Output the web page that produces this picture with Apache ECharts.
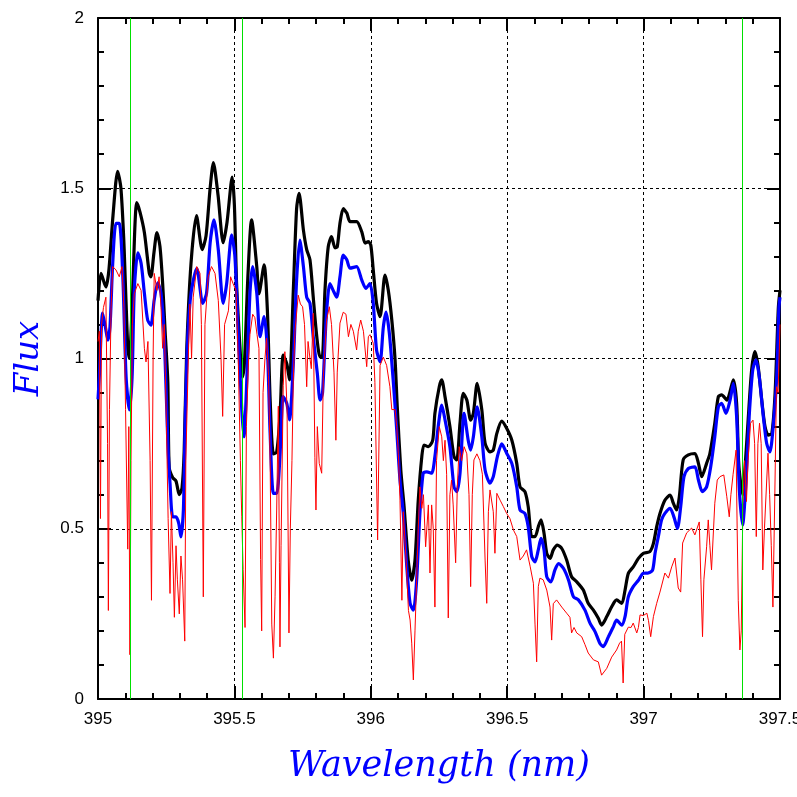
<!DOCTYPE html>
<html><head><meta charset="utf-8">
<script src="https://cdn.jsdelivr.net/npm/echarts@6/dist/echarts.min.js"></script>
<style>html,body{margin:0;padding:0;background:#fff;overflow:hidden}#c{width:797px;height:797px}</style>
</head><body><div id="c"></div>
<script>
// ---- data (wavelength nm, flux) ----
var xTicks = [395, 395.5, 396, 396.5, 397, 397.5];
var yTicks = [0, 0.5, 1, 1.5, 2];
var markerLines = [395.117, 395.533, 397.361];

var black = [[395.000,1.17],[395.011,1.25],[395.029,1.21],[395.040,1.26],[395.055,1.42],[395.072,1.55],[395.084,1.50],[395.096,1.32],[395.109,1.03],[395.115,1.00],[395.125,1.15],[395.142,1.458],[395.154,1.43],[395.170,1.37],[395.188,1.25],[395.194,1.24],[395.205,1.31],[395.216,1.37],[395.227,1.33],[395.237,1.22],[395.246,1.08],[395.256,0.93],[395.261,0.68],[395.274,0.65],[395.286,0.64],[395.298,0.60],[395.308,0.62],[395.316,0.73],[395.325,1.02],[395.341,1.28],[395.361,1.42],[395.382,1.32],[395.396,1.36],[395.411,1.50],[395.423,1.575],[395.440,1.48],[395.459,1.34],[395.473,1.40],[395.492,1.533],[395.500,1.45],[395.508,1.22],[395.521,1.025],[395.529,0.945],[395.536,0.975],[395.550,1.25],[395.563,1.407],[395.582,1.27],[395.590,1.19],[395.609,1.275],[395.621,1.14],[395.631,0.88],[395.643,0.72],[395.655,0.725],[395.667,0.83],[395.679,1.01],[395.692,0.985],[395.702,0.937],[395.716,1.20],[395.728,1.44],[395.737,1.485],[395.753,1.377],[395.765,1.32],[395.777,1.29],[395.789,1.18],[395.802,1.064],[395.814,1.005],[395.822,1.005],[395.832,1.20],[395.844,1.328],[395.856,1.358],[395.869,1.325],[395.877,1.328],[395.887,1.397],[395.899,1.44],[395.912,1.427],[395.924,1.402],[395.948,1.402],[395.967,1.372],[395.979,1.339],[395.991,1.343],[396.000,1.333],[396.009,1.26],[396.021,1.162],[396.034,1.123],[396.052,1.245],[396.064,1.201],[396.077,1.113],[396.089,0.996],[396.097,0.858],[396.110,0.672],[396.122,0.565],[396.137,0.408],[396.150,0.349],[396.162,0.408],[396.174,0.584],[396.187,0.712],[396.195,0.746],[396.211,0.741],[396.227,0.76],[396.235,0.839],[396.251,0.917],[396.260,0.937],[396.272,0.888],[396.290,0.80],[396.305,0.712],[396.315,0.702],[396.327,0.81],[396.339,0.898],[396.352,0.878],[396.366,0.819],[396.376,0.839],[396.390,0.927],[396.407,0.849],[396.419,0.751],[396.437,0.726],[396.449,0.731],[396.462,0.78],[396.480,0.816],[396.498,0.795],[396.517,0.76],[396.535,0.692],[396.547,0.623],[396.565,0.609],[396.577,0.565],[396.590,0.477],[396.602,0.477],[396.614,0.506],[396.624,0.526],[396.635,0.487],[396.645,0.428],[396.657,0.413],[396.669,0.438],[396.684,0.452],[396.700,0.442],[396.718,0.408],[396.736,0.359],[396.755,0.344],[396.779,0.32],[396.797,0.281],[396.816,0.261],[396.834,0.237],[396.846,0.217],[396.865,0.242],[396.883,0.271],[396.901,0.291],[396.920,0.281],[396.932,0.32],[396.944,0.369],[396.962,0.388],[396.981,0.413],[396.999,0.428],[397.023,0.433],[397.036,0.457],[397.048,0.506],[397.060,0.545],[397.078,0.584],[397.097,0.599],[397.109,0.575],[397.121,0.555],[397.131,0.594],[397.145,0.702],[397.164,0.717],[397.188,0.721],[397.201,0.692],[397.213,0.653],[397.231,0.692],[397.243,0.721],[397.261,0.81],[397.274,0.888],[397.286,0.893],[397.305,0.878],[397.329,0.937],[397.341,0.868],[397.348,0.70],[397.353,0.653],[397.363,0.599],[397.372,0.682],[397.384,0.829],[397.396,0.966],[397.408,1.02],[397.420,0.976],[397.433,0.878],[397.445,0.80],[397.457,0.775],[397.470,0.78],[397.482,0.898],[397.494,1.15],[397.500,1.20]];

var blue = [[395.000,0.88],[395.005,0.95],[395.017,1.133],[395.027,1.093],[395.036,1.054],[395.044,1.093],[395.054,1.28],[395.066,1.397],[395.078,1.397],[395.091,1.24],[395.103,0.946],[395.115,0.849],[395.125,0.946],[395.133,1.20],[395.146,1.31],[395.158,1.28],[395.170,1.192],[395.182,1.113],[395.194,1.098],[395.206,1.172],[395.219,1.222],[395.231,1.192],[395.243,1.064],[395.256,0.752],[395.264,0.634],[395.274,0.535],[395.286,0.535],[395.296,0.516],[395.304,0.476],[395.313,0.555],[395.320,0.829],[395.329,1.064],[395.341,1.192],[395.362,1.265],[395.384,1.162],[395.398,1.192],[395.411,1.339],[395.425,1.407],[395.441,1.319],[395.459,1.162],[395.472,1.222],[395.490,1.363],[395.502,1.298],[395.514,1.074],[395.527,0.849],[395.535,0.77],[395.545,0.928],[395.557,1.192],[395.567,1.27],[395.582,1.192],[395.594,1.064],[395.609,1.123],[395.621,1.025],[395.631,0.78],[395.643,0.604],[395.655,0.604],[395.667,0.712],[395.679,0.888],[395.692,0.868],[395.702,0.82],[395.716,0.985],[395.728,1.23],[395.740,1.348],[395.753,1.27],[395.765,1.18],[395.777,1.162],[395.789,1.064],[395.804,0.956],[395.814,0.878],[395.823,0.898],[395.836,1.113],[395.850,1.22],[395.862,1.20],[395.875,1.18],[395.887,1.24],[395.899,1.304],[395.912,1.29],[395.924,1.265],[395.948,1.27],[395.967,1.23],[395.982,1.206],[395.997,1.22],[396.009,1.162],[396.021,1.025],[396.034,0.99],[396.046,1.093],[396.056,1.136],[396.068,1.074],[396.082,0.937],[396.095,0.79],[396.107,0.643],[396.119,0.545],[396.132,0.388],[396.144,0.281],[396.156,0.261],[396.168,0.349],[396.180,0.545],[396.192,0.663],[396.205,0.667],[396.223,0.663],[396.235,0.712],[396.247,0.80],[396.260,0.863],[396.272,0.82],[396.290,0.741],[396.305,0.623],[396.315,0.609],[396.327,0.663],[396.342,0.839],[396.357,0.76],[396.366,0.731],[396.376,0.77],[396.390,0.858],[396.407,0.77],[396.419,0.672],[396.437,0.634],[396.449,0.653],[396.464,0.712],[396.480,0.749],[396.498,0.722],[396.517,0.692],[396.535,0.623],[396.547,0.555],[396.565,0.545],[396.577,0.506],[396.590,0.418],[396.602,0.403],[396.614,0.438],[396.624,0.472],[396.635,0.438],[396.645,0.359],[396.660,0.344],[396.675,0.379],[396.688,0.398],[396.706,0.384],[396.725,0.349],[396.743,0.30],[396.761,0.291],[396.785,0.261],[396.804,0.222],[396.822,0.198],[396.840,0.163],[396.852,0.154],[396.871,0.183],[396.889,0.212],[396.901,0.232],[396.920,0.217],[396.932,0.242],[396.944,0.30],[396.962,0.33],[396.981,0.349],[396.999,0.369],[397.017,0.37],[397.033,0.379],[397.042,0.428],[397.054,0.477],[397.066,0.526],[397.078,0.545],[397.097,0.56],[397.111,0.535],[397.124,0.501],[397.136,0.565],[397.148,0.653],[397.164,0.677],[397.188,0.682],[397.201,0.643],[397.215,0.609],[397.231,0.623],[397.246,0.682],[397.261,0.77],[397.274,0.858],[397.286,0.868],[397.302,0.839],[397.317,0.878],[397.329,0.927],[397.341,0.829],[397.351,0.614],[397.363,0.511],[397.375,0.634],[397.387,0.829],[397.400,0.966],[397.412,0.996],[397.424,0.946],[397.439,0.829],[397.451,0.751],[397.463,0.726],[397.475,0.80],[397.488,0.946],[397.496,1.15],[397.500,1.18]];

var red = [[395.000,1.05],[395.005,1.08],[395.009,0.53],[395.013,1.10],[395.020,1.15],[395.029,1.18],[395.035,0.75],[395.038,0.26],[395.042,0.85],[395.048,1.15],[395.054,1.27],[395.066,1.26],[395.078,1.24],[395.088,1.27],[395.095,1.15],[395.101,0.85],[395.109,0.44],[395.113,0.80],[395.117,0.13],[395.121,0.70],[395.126,1.10],[395.133,1.19],[395.146,1.22],[395.158,1.20],[395.170,1.03],[395.176,0.99],[395.183,1.05],[395.191,0.70],[395.196,0.29],[395.202,1.00],[395.206,1.25],[395.216,1.20],[395.224,1.24],[395.231,1.15],[395.237,1.03],[395.243,1.10],[395.251,0.80],[395.257,0.53],[395.264,0.31],[395.269,0.55],[395.275,0.40],[395.280,0.24],[395.286,0.45],[395.291,0.35],[395.298,0.25],[395.304,0.42],[395.310,0.35],[395.318,0.17],[395.322,0.70],[395.332,1.03],[395.337,1.16],[395.343,1.00],[395.349,1.18],[395.362,1.27],[395.374,1.25],[395.379,1.10],[395.386,0.30],[395.392,1.10],[395.404,1.24],[395.416,1.27],[395.429,1.25],[395.441,1.17],[395.451,1.00],[395.457,0.83],[395.464,1.10],[395.478,1.14],[395.486,1.24],[395.495,1.22],[395.506,1.20],[395.514,1.00],[395.522,0.70],[395.527,0.535],[395.532,0.38],[395.539,0.21],[395.544,0.80],[395.552,1.00],[395.557,1.07],[395.567,1.13],[395.575,1.12],[395.583,1.07],[395.590,1.03],[395.596,0.41],[395.600,0.20],[395.605,0.90],[395.612,1.00],[395.618,1.06],[395.625,0.95],[395.631,0.70],[395.637,0.22],[395.643,0.12],[395.649,0.30],[395.655,0.555],[395.661,0.86],[395.665,0.40],[395.667,0.153],[395.671,0.45],[395.679,0.92],[395.685,1.02],[395.693,0.85],[395.700,0.194],[395.705,0.50],[395.711,0.70],[395.716,0.94],[395.722,1.08],[395.734,1.186],[395.742,1.16],[395.750,1.152],[395.757,1.10],[395.765,0.917],[395.770,1.05],[395.777,1.00],[395.782,0.97],[395.789,1.133],[395.795,0.71],[395.799,0.555],[395.804,0.80],[395.811,0.692],[395.820,0.663],[395.826,0.946],[395.838,1.113],[395.848,1.152],[395.856,1.10],[395.865,0.96],[395.872,0.76],[395.877,0.96],[395.887,1.104],[395.899,1.136],[395.909,1.13],[395.918,1.064],[395.927,1.10],[395.936,1.08],[395.948,1.025],[395.954,1.08],[395.963,1.113],[395.973,1.08],[395.985,0.976],[395.991,1.064],[395.997,1.07],[396.009,1.045],[396.015,0.93],[396.025,0.467],[396.034,0.98],[396.046,1.004],[396.058,0.98],[396.070,0.917],[396.077,0.85],[396.089,0.85],[396.095,0.80],[396.101,0.72],[396.107,0.584],[396.114,0.29],[396.119,0.55],[396.130,0.40],[396.138,0.26],[396.144,0.232],[396.150,0.164],[396.156,0.056],[396.162,0.20],[396.168,0.349],[396.174,0.50],[396.180,0.623],[396.187,0.56],[396.193,0.60],[396.201,0.447],[396.211,0.57],[396.217,0.37],[396.223,0.57],[396.229,0.50],[396.235,0.27],[396.241,0.70],[396.251,0.80],[396.260,0.77],[396.266,0.70],[396.272,0.76],[396.278,0.66],[396.284,0.238],[396.290,0.60],[396.296,0.643],[396.302,0.57],[396.311,0.40],[396.317,0.62],[396.324,0.741],[396.333,0.70],[396.342,0.741],[396.352,0.72],[396.360,0.60],[396.366,0.33],[396.372,0.60],[396.378,0.702],[396.389,0.72],[396.400,0.70],[396.409,0.66],[396.419,0.408],[396.425,0.281],[396.431,0.55],[396.437,0.614],[396.443,0.61],[396.449,0.55],[396.455,0.428],[396.462,0.604],[396.474,0.584],[396.486,0.565],[396.498,0.545],[396.510,0.53],[396.523,0.496],[396.535,0.477],[396.547,0.408],[396.559,0.42],[396.571,0.438],[396.584,0.39],[396.596,0.34],[396.602,0.22],[396.608,0.109],[396.614,0.33],[396.620,0.355],[396.632,0.35],[396.645,0.32],[396.657,0.27],[396.663,0.173],[396.669,0.28],[396.681,0.291],[396.700,0.27],[396.718,0.252],[396.730,0.24],[396.736,0.194],[396.745,0.21],[396.755,0.194],[396.773,0.183],[396.785,0.16],[396.797,0.135],[396.816,0.115],[396.834,0.109],[396.846,0.07],[396.865,0.09],[396.883,0.123],[396.901,0.144],[396.912,0.164],[396.919,0.17],[396.925,0.047],[396.931,0.19],[396.944,0.211],[396.954,0.21],[396.962,0.223],[396.975,0.194],[396.981,0.21],[396.987,0.247],[396.999,0.245],[397.012,0.252],[397.018,0.23],[397.026,0.183],[397.036,0.242],[397.048,0.281],[397.060,0.314],[397.078,0.37],[397.091,0.355],[397.103,0.388],[397.115,0.414],[397.127,0.326],[397.136,0.314],[397.143,0.458],[397.158,0.488],[397.176,0.502],[397.188,0.482],[397.204,0.52],[397.210,0.35],[397.216,0.183],[397.221,0.35],[397.231,0.447],[397.237,0.526],[397.243,0.45],[397.249,0.379],[397.255,0.38],[397.261,0.575],[397.270,0.643],[397.280,0.653],[397.294,0.658],[397.305,0.594],[397.314,0.535],[397.320,0.60],[397.328,0.66],[397.339,0.731],[397.343,0.50],[397.347,0.29],[397.353,0.144],[397.358,0.20],[397.364,0.575],[397.370,0.70],[397.377,0.58],[397.383,0.70],[397.392,0.81],[397.401,0.819],[397.407,0.75],[397.413,0.477],[397.419,0.75],[397.425,0.81],[397.431,0.75],[397.437,0.379],[397.443,0.50],[397.456,0.722],[397.462,0.60],[397.468,0.45],[397.474,0.27],[397.481,0.60],[397.487,0.917],[397.493,0.90],[397.500,1.10]];

// ---- chart ----
var chart = echarts.init(document.getElementById('c'), null, {renderer:'canvas'});
var tickFamily = 'Liberation Sans, Arial, sans-serif';
function xAx(pos, showLabel, showSplit){
  return {type:'value', position:pos, min:395, max:397.5, interval:0.5,
    axisLine:{show:true, onZero:false, lineStyle:{color:'#000', width:2}},
    axisTick:{show:true, inside:true, length:13, lineStyle:{color:'#000', width:2}},
    minorTick:{show:true, splitNumber:5, length:6, lineStyle:{color:'#000', width:2}},
    axisLabel:{show:showLabel, margin:12, formatter:function(v){return String(v);}, color:'#000', fontFamily:tickFamily, fontSize:17},
    splitLine:{show:showSplit, lineStyle:{color:'#000', width:1, type:[3,3]}},
    name: showLabel ? 'Wavelength (nm)' : '', nameLocation:'middle', nameGap:50,
    nameTextStyle:{color:'#0000ff', fontFamily:'DejaVu Serif, serif', fontStyle:'italic', fontSize:35}};
}
function yAx(pos, showLabel, showSplit){
  return {type:'value', position:pos, min:0, max:2, interval:0.5,
    axisLine:{show:true, onZero:false, lineStyle:{color:'#000', width:2}},
    axisTick:{show:true, inside:true, length:13, lineStyle:{color:'#000', width:2}},
    minorTick:{show:true, splitNumber:5, length:6, lineStyle:{color:'#000', width:2}},
    axisLabel:{show:showLabel, margin:14, formatter:function(v){return String(v);}, color:'#000', fontFamily:tickFamily, fontSize:17},
    splitLine:{show:showSplit, lineStyle:{color:'#000', width:1, type:[3,3]}},
    name: showLabel ? 'Flux' : '', nameLocation:'middle', nameGap:52,
    nameTextStyle:{color:'#0000ff', fontFamily:'DejaVu Serif, serif', fontStyle:'italic', fontSize:34}};
}
chart.setOption({
  animation:false,
  backgroundColor:'#fff',
  grid:{left:98, right:17, top:18, bottom:98, containLabel:false, outerBoundsMode:'none'},
  xAxis:[xAx('bottom', true, true), xAx('top', false, false)],
  yAxis:[yAx('left', true, true), yAx('right', false, false)],
  series:[
    {type:'line', data:[], xAxisIndex:0, yAxisIndex:0, silent:true, z:1,
      markLine:{silent:true, symbol:['none','none'], label:{show:false},
        lineStyle:{color:'#00e000', width:1, type:'solid'},
        data: markerLines.map(function(v){return {xAxis:v};})}},
    {name:'black', type:'line', data:black, showSymbol:false, smooth:0.25, z:2,
      lineStyle:{color:'#000', width:3.2}},
    {name:'blue', type:'line', data:blue, showSymbol:false, smooth:0.25, z:3,
      lineStyle:{color:'#0000ff', width:3.2}},
    {name:'red', type:'line', data:red, showSymbol:false, smooth:false, z:4,
      lineStyle:{color:'#ff0000', width:1}}
  ]
});
</script></body></html>
